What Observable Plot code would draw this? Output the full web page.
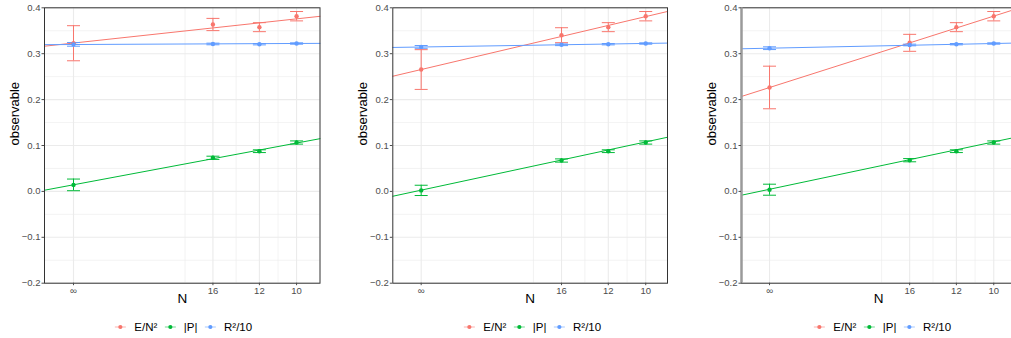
<!DOCTYPE html>
<html><head><meta charset="utf-8">
<script src="https://cdn.jsdelivr.net/npm/d3@7"></script>
<script src="https://cdn.jsdelivr.net/npm/@observablehq/plot@0.6"></script>
<style>
html,body{margin:0;padding:0;background:#fff}
body{width:1011px;height:338px;overflow:hidden;position:relative;font-family:"Liberation Sans",Arial,sans-serif}
.panel{position:absolute;top:0}
.panel svg{max-width:none !important}
.legend{position:absolute;top:318px;height:18px;display:flex;align-items:center;transform:translateX(-50%);font-size:11.5px;color:#000;white-space:nowrap}
.legend .item{display:flex;align-items:center;margin-right:4px}
.legend svg{margin-right:5.5px}
</style></head><body>
<script>
// ---------- data ----------
const N = [Infinity, 16, 12, 10];
const xTickLabels = ["∞", "16", "12", "10"];
const xMinorBreaks = [0.05, 0.0729, 0.0917];
const yMajorBreaks = [-0.2, -0.1, 0, 0.1, 0.2, 0.3, 0.4];
const yMinorBreaks = [-0.15, -0.05, 0.05, 0.15, 0.25, 0.35];
const seriesNames = ["E/N²", "|P|", "R²/10"];
const seriesColors = ["#F8766D", "#00BA38", "#619CFF"];

// panel 1
const p1_E = [0.3228, 0.3636, 0.3578, 0.3817];
const p1_Eerr = [0.0382, 0.0133, 0.0098, 0.0102];
const p1_P = [0.0142, 0.0732, 0.0876, 0.1065];
const p1_Perr = [0.0127, 0.0035, 0.003, 0.0035];
const p1_R = [0.3203, 0.3212, 0.3207, 0.3222];
const p1_Rerr = [0.004, 0.0018, 0.0015, 0.0015];
const p1_fitIntercept = [0.3232, 0.0144, 0.3200];
const p1_fitSlope = [0.527, 0.909, 0.0226];

// panel 2
const p2_E = [0.2655, 0.3403, 0.3578, 0.3817];
const p2_Eerr = [0.0433, 0.0163, 0.0098, 0.0102];
const p2_P = [0.0022, 0.0673, 0.0876, 0.1065];
const p2_Perr = [0.0112, 0.0035, 0.003, 0.0035];
const p2_R = [0.3148, 0.3194, 0.3207, 0.3222];
const p2_Rerr = [0.003, 0.0018, 0.0015, 0.0015];
const p2_fitIntercept = [0.2655, 0.0027, 0.3146];
const p2_fitSlope = [1.153, 1.051, 0.0777];

// panel 3
const p3_E = [0.2264, 0.3237, 0.3578, 0.3817];
const p3_Eerr = [0.0464, 0.0185, 0.0098, 0.0102];
const p3_P = [0.0037, 0.0680, 0.0876, 0.1065];
const p3_Perr = [0.012, 0.0035, 0.003, 0.0035];
const p3_R = [0.3120, 0.3190, 0.3207, 0.3222];
const p3_Rerr = [0.003, 0.0018, 0.0015, 0.0015];
const p3_fitIntercept = [0.2263, 0.0046, 0.3120];
const p3_fitSlope = [1.556, 1.033, 0.102];

// ---------- build ----------
const panelSeries = [
  {vals: [p1_E, p1_P, p1_R], errs: [p1_Eerr, p1_Perr, p1_Rerr], a: p1_fitIntercept, b: p1_fitSlope},
  {vals: [p2_E, p2_P, p2_R], errs: [p2_Eerr, p2_Perr, p2_Rerr], a: p2_fitIntercept, b: p2_fitSlope},
  {vals: [p3_E, p3_P, p3_R], errs: [p3_Eerr, p3_Perr, p3_Rerr], a: p3_fitIntercept, b: p3_fitSlope}
];
const layout = [
  {left: 0,   width: 333, ml: 44,   mr: 13.5, domain: [-0.0130, 0.1105], legendX: 184, thickLeft: false},
  {left: 333, width: 337, ml: 59.3, mr: 3,    domain: [-0.01264, 0.1097], legendX: 533, thickLeft: false},
  {left: 670, width: 345, ml: 71,   mr: 0,    domain: [-0.0125, 0.1097], legendX: 883, thickLeft: true}
];
const xTicks = N.map(n => 1 / n);
const xLabel = new Map(xTicks.map((x, i) => [x, xTickLabels[i]]));
const capSymbol = {draw(ctx, size) { const h = Math.sqrt(size / Math.PI); ctx.moveTo(-h, 0); ctx.lineTo(h, 0); }};
const grid = "#ebebeb";

layout.forEach((L, p) => {
  const S = panelSeries[p];
  const rows = [];
  S.vals.forEach((arr, s) => arr.forEach((v, i) => rows.push({x: xTicks[i], y: v, lo: v - S.errs[s][i], hi: v + S.errs[s][i], series: seriesNames[s]})));
  const fits = [];
  seriesNames.forEach((name, s) => L.domain.forEach(x => fits.push({x, y: S.a[s] + S.b[s] * x, series: name})));

  const marks = [
    Plot.ruleX(xMinorBreaks, {stroke: grid, strokeWidth: 0.6}),
    Plot.ruleY(yMinorBreaks, {stroke: grid, strokeWidth: 0.6}),
    Plot.ruleX(xTicks, {stroke: grid, strokeWidth: 1.1}),
    Plot.ruleY(yMajorBreaks, {stroke: grid, strokeWidth: 1.1}),
    Plot.line(fits, {x: "x", y: "y", z: "series", stroke: "series", strokeWidth: 1}),
    Plot.ruleX(rows, {x: "x", y1: "lo", y2: "hi", stroke: "series", strokeWidth: 1}),
    Plot.dot(rows, {x: "x", y: "lo", stroke: "series", symbol: capSymbol, r: 6.5, fill: "none", strokeWidth: 1}),
    Plot.dot(rows, {x: "x", y: "hi", stroke: "series", symbol: capSymbol, r: 6.5, fill: "none", strokeWidth: 1}),
    Plot.dot(rows, {x: "x", y: "y", fill: "series", r: 2.2}),
    Plot.frame({stroke: "#333333", strokeWidth: 1}),
    Plot.axisX(xTicks, {tickFormat: d => xLabel.get(d), tickSize: 2.5, tickPadding: 1.5, fontSize: 9.5, color: "#4d4d4d", label: null}),
    Plot.axisY(yMajorBreaks, {tickFormat: d3.format(".1f"), tickSize: 2.5, tickPadding: 1.5, fontSize: 9.5, color: "#4d4d4d", label: null}),
    Plot.text(["N"], {frameAnchor: "bottom", dy: 20, fontSize: 13.5, fill: "#000"}),
    Plot.text(["observable"], {frameAnchor: "left", dx: -30, rotate: -90, fontSize: 13, fill: "#000"})
  ];
  if (L.thickLeft) marks.splice(10, 0, Plot.ruleX([L.domain[0]], {stroke: "#9a9a9a", strokeWidth: 2.5}));

  const chart = Plot.plot({
    width: L.width, height: 310,
    marginLeft: L.ml, marginRight: L.mr, marginTop: 7.3, marginBottom: 27.3,
    x: {domain: L.domain},
    y: {domain: [-0.2, 0.4]},
    color: {domain: seriesNames, range: seriesColors},
    style: {fontFamily: '"Liberation Sans", Arial, sans-serif', background: "transparent", overflow: "visible", maxWidth: "none"},
    marks
  });
  chart.style.maxWidth = "none";
  chart.setAttribute("width", L.width);
  const wrap = document.createElement("div");
  wrap.className = "panel";
  wrap.style.left = L.left + "px";
  wrap.style.width = L.width + "px";
  wrap.appendChild(chart);
  document.body.appendChild(wrap);

  const leg = document.createElement("div");
  leg.className = "legend";
  leg.style.left = L.legendX + "px";
  seriesNames.forEach((name, s) => {
    const it = document.createElement("div");
    it.className = "item";
    it.innerHTML = `<svg width="17" height="10"><line x1="3" x2="14" y1="5" y2="5" stroke="${seriesColors[s]}" stroke-opacity="0.55" stroke-width="1.2"/><circle cx="8.5" cy="5" r="2.1" fill="${seriesColors[s]}"/></svg>`;
    const t = document.createElement("span");
    t.textContent = name;
    it.appendChild(t);
    leg.appendChild(it);
  });
  document.body.appendChild(leg);
});
</script>
</body></html>
